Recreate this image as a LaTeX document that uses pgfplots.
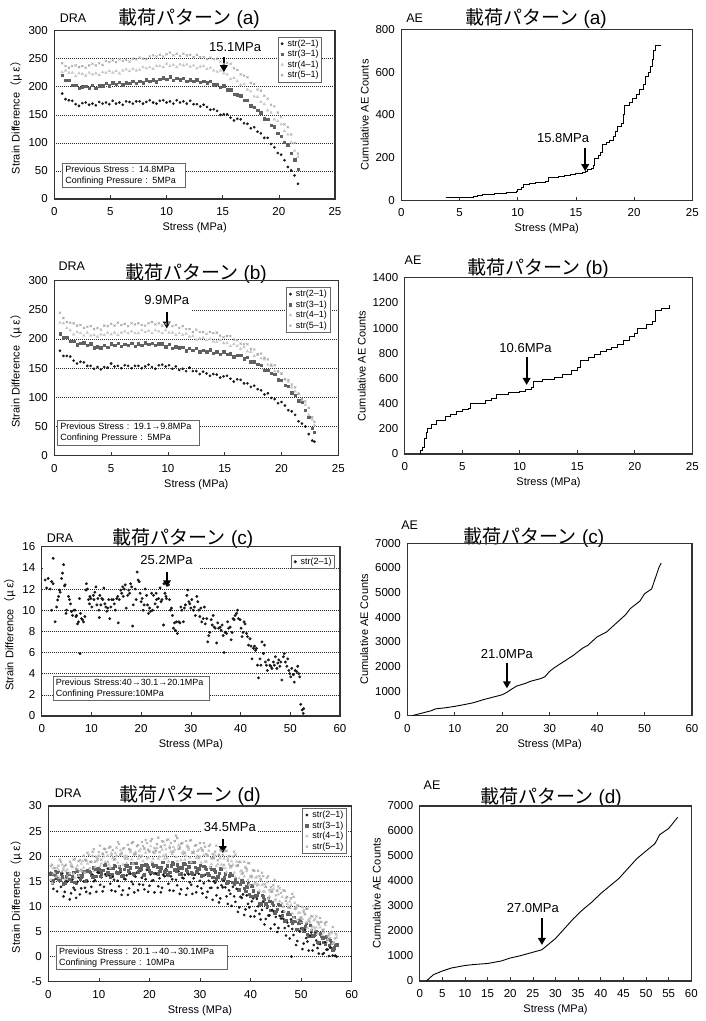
\documentclass[border=0pt]{standalone}
\usepackage{fontspec}
\setmainfont{Liberation Sans}
\newfontfamily\cjk{Noto Sans CJK JP}
\usepackage{pgfplots}
\usepackage{pgfplotstable}
\pgfplotsset{compat=1.18}
\usetikzlibrary{arrows.meta}

% ---------- DRA strain differences, loading pattern (a) ----------
\pgfplotstableread{
x a b c d
0.7 188 221 226 242
1.0 178 212 229 237
1.3 176 212 225 234
1.6 175 203 225 237
1.9 169 203 219 238
2.2 166 197 224 235
2.5 171 200 223 237
2.8 172 201 220 234
3.1 168 197 225 238
3.4 170 203 222 241
3.7 167 198 224 238
4.0 173 202 221 242
4.3 170 202 226 239
4.6 172 206 225 246
4.9 169 202 228 244
5.2 175 207 225 247
5.5 170 205 228 244
5.8 172 208 224 249
6.1 168 204 229 246
6.4 174 207 231 248
6.7 173 206 228 245
7.0 170 210 232 250
7.3 174 206 229 249
7.6 174 210 230 252
7.9 170 207 235 250
8.2 173 213 233 249
8.5 176 210 235 254
8.8 172 213 232 256
9.1 170 209 237 254
9.4 175 214 237 257
9.7 176 216 235 254
10.0 172 214 241 258
10.3 174 218 237 261
10.6 170 212 239 256
10.9 176 215 235 259
11.2 172 213 240 255
11.5 174 215 238 259
11.8 170 210 240 256
12.1 175 213 236 257
12.4 169 210 238 253
12.7 169 213 233 257
13.0 165 208 236 253
13.3 168 210 237 253
13.6 164 207 232 249
13.9 159 210 234 252
14.2 160 204 229 249
14.5 157 205 227 250
14.8 150 199 229 245
15.1 151 202 224 241
15.4 151 195 222 243
15.7 145 195 214 241
16.0 140 187 216 233
16.3 143 186 210 230
16.6 142 184 203 222
16.9 135 176 205 220
17.2 134 176 195 217
17.5 126 166 192 207
17.8 128 164 183 205
18.1 120 158 182 195
18.4 117 154 173 193
18.7 109 143 169 184
19.0 109 142 158 179
19.3 98 132 154 168
19.6 92 129 142 165
19.9 82 117 139 154
20.2 79 112 133 146
20.5 69 101 121 133
20.8 57 97 115 128
21.1 51 82 101 115
21.4 42 70 86 100
21.7 27 53 75 81
}\dA

% ---------- DRA strain differences, loading pattern (b) ----------
\pgfplotstableread{
x a b c d
0.5 180 209 228 245
0.8 171 202 227 236
1.1 171 203 219 229
1.4 170 196 215 228
1.7 163 196 208 227
2.0 158 190 212 223
2.3 161 193 210 224
2.6 160 194 206 219
2.9 154 189 211 221
3.2 154 192 206 222
3.5 149 185 207 217
3.8 152 187 204 219
4.1 148 185 208 216
4.4 152 189 207 223
4.7 151 186 211 222
5.0 158 192 208 226
5.3 153 189 211 223
5.6 154 193 207 228
5.9 150 188 211 224
6.2 155 191 213 226
6.5 154 189 210 222
6.8 150 193 213 227
7.1 154 188 210 225
7.4 154 192 210 227
7.7 150 189 215 224
8.0 153 194 212 223
8.3 156 191 214 227
8.6 152 193 210 229
8.9 149 189 215 225
9.2 155 192 213 227
9.5 156 192 210 223
9.8 153 187 215 226
10.1 155 191 211 227
10.4 149 184 211 222
10.7 153 187 207 224
11.0 147 185 210 219
11.3 149 186 207 222
11.6 145 180 209 217
11.9 151 184 204 217
12.2 145 181 205 212
12.5 145 184 199 216
12.8 140 178 201 212
13.1 144 181 202 212
13.4 141 178 198 209
13.7 137 182 200 212
14.0 140 176 196 210
14.3 139 178 195 211
14.6 134 174 198 206
14.9 136 178 193 203
15.2 137 174 193 205
15.5 132 175 188 205
15.8 127 170 191 199
16.1 131 172 188 198
16.4 130 172 183 192
16.7 124 166 186 191
17.0 124 169 179 191
17.3 118 161 178 183
17.6 120 161 171 182
17.9 114 157 173 174
18.2 112 155 167 175
18.5 105 147 165 168
18.8 107 147 156 165
19.1 99 141 154 156
19.4 97 140 145 155
19.7 90 130 144 145
20.0 92 129 140 141
20.3 86 121 131 131
20.6 78 119 127 130
20.9 76 108 117 122
21.2 70 104 110 117
21.5 59 94 106 106
21.8 55 92 95 97
22.1 50 78 87 93
22.4 37 66 70 82
22.7 26 47 62 66
22.9 24 40 52 58
}\dB

% ---------- DRA strain difference, loading pattern (c) ----------
\pgfplotstableread{
x y
0.7 12.85
1.0 12.1
1.3 13.0
1.7 12.0
2.0 12.7
2.3 14.9
2.3 12.5
2.0 10.0
2.7 8.9
3.0 10.3
3.2 10.96
3.4 11.3
3.6 11.9
3.7 11.7
4.0 13.0
4.2 13.5
4.4 14.3
4.6 12.3
4.7 12.4
4.9 9.7
5.0 10.0
5.4 11.3
5.6 11.0
5.8 10.6
6.0 9.86
6.2 9.5
6.5 10.0
6.7 10.0
6.9 9.4
7.0 9.5
7.2 8.7
7.4 8.9
7.6 11.1
7.7 5.9
7.8 9.7
8.0 9.2
8.2 9.1
8.4 8.9
8.7 9.4
8.9 11.9
9.0 12.5
9.2 12.0
9.4 11.0
9.6 10.6
9.7 11.3
9.9 11.1
10.1 10.3
10.4 11.4
10.5 11.0
10.7 11.7
10.9 12.2
11.1 10.5
11.3 11.1
11.5 10.0
11.6 9.3
11.7 11.4
11.9 10.5
12.1 11.1
12.3 11.0
12.5 12.1
12.7 10.6
12.9 10.3
13.1 9.9
13.3 10.2
13.5 11.0
13.7 9.2
13.9 10.3
14.1 11.0
14.4 11.0
14.6 10.6
14.8 10.0
15.1 11.1
15.3 11.3
15.4 8.8
15.6 11.0
15.9 11.9
16.1 11.6
16.3 12.2
16.4 11.3
16.6 12.0
16.8 12.4
17.0 10.2
17.3 11.4
17.5 11.9
17.7 11.6
17.9 12.5
18.1 12.2
18.3 8.5
18.4 10.5
18.8 12.0
19.0 11.0
19.2 13.6
19.4 12.85
19.6 12.7
19.8 11.6
20.0 10.8
20.2 11.1
20.4 10.0
20.6 10.5
20.8 12.0
21.1 11.4
21.3 10.5
21.5 9.7
21.7 10.2
21.9 9.9
22.1 11.6
22.3 10.0
22.5 11.4
22.8 10.6
23.0 11.6
23.1 11.0
23.3 10.3
23.5 11.1
23.8 12.1
24.0 10.8
24.2 11.0
24.5 8.6
24.6 12.5
24.8 11.6
25.0 11.3
25.1 11.1
25.5 12.4
25.7 11.0
25.9 10.0
26.1 10.2
26.3 9.5
26.5 8.3
26.7 8.8
26.9 8.1
27.1 8.9
27.3 7.8
27.6 8.9
27.8 8.8
28.0 10.3
28.2 10.0
28.5 8.9
28.7 10.2
28.9 10.5
29.2 11.4
29.4 11.9
29.6 10.8
29.8 10.6
30.0 10.2
30.2 11.0
30.5 10.0
30.7 10.3
30.9 9.5
31.2 11.3
31.4 10.8
31.6 10.0
31.8 9.4
32.0 10.2
32.2 8.9
32.5 9.2
32.7 10.3
32.9 8.7
33.2 9.2
33.4 7.0
33.6 7.6
33.8 7.9
34.1 9.1
34.3 8.6
34.5 9.5
34.7 8.4
34.9 8.3
35.2 6.9
35.4 8.8
35.6 8.3
35.9 8.4
36.1 8.1
36.3 8.6
36.5 7.6
36.7 6.0
36.9 7.9
37.2 7.8
37.4 8.9
37.6 8.3
37.9 8.4
38.1 7.2
38.3 7.9
38.5 9.2
38.7 9.1
38.9 9.5
39.2 9.7
39.4 10.0
39.6 9.2
39.9 9.1
40.1 8.3
40.3 7.5
40.5 7.9
40.7 8.9
40.9 8.7
41.2 7.8
41.4 7.5
41.6 6.7
41.9 7.3
42.1 6.6
42.3 5.4
42.6 6.4
42.8 6.6
43.0 6.2
43.2 6.4
43.4 4.8
43.6 3.6
43.9 5.4
44.1 4.8
44.3 7.0
44.6 5.9
44.8 6.7
45.0 5.1
45.2 4.8
45.4 4.3
45.6 5.3
45.9 4.8
46.1 4.7
46.3 4.5
46.6 5.1
46.8 4.8
47.0 5.6
47.3 4.5
47.5 5.0
47.7 5.3
47.9 4.7
48.1 5.1
48.3 3.4
48.6 5.6
48.8 5.9
49.0 5.1
49.3 4.7
49.5 5.4
49.7 4.3
49.9 4.0
50.1 3.7
50.3 4.5
50.6 3.9
50.8 3.2
51.0 4.3
51.3 4.2
51.5 4.7
51.7 4.0
51.9 3.7
52.1 1.1
52.4 0.57
52.6 0.25
52.7 0.7
}\dC

% ---------- DRA strain differences, loading pattern (d): readings at whole and half MPa ----------
\pgfplotstableread{
x a b c d
0.5 16.7 16.5 15.3 18.0
1.0 13.5 15.1 17.6 16.5
1.5 15.5 17.0 16.2 15.8
2.0 16.9 15.5 17.2 18.1
2.5 13.9 16.5 15.1 18.9
3.0 12.0 14.5 17.7 17.3
3.5 15.1 15.9 17.0 18.3
4.0 15.5 16.5 15.7 16.6
4.5 12.6 15.0 18.5 18.1
5.0 13.7 16.8 16.5 19.3
5.5 11.7 14.7 17.6 17.4
6.0 15.8 16.2 16.1 19.0
6.5 13.6 15.8 18.5 17.3
7.0 15.0 16.9 17.7 20.1
7.5 12.9 15.2 19.2 19.1
8.0 16.9 17.0 17.4 20.2
8.5 13.9 16.2 18.9 18.8
9.0 15.0 17.7 17.0 21.4
9.5 12.9 16.0 19.0 19.9
10.0 16.7 17.3 20.1 20.8
10.5 15.8 16.5 18.5 19.3
11.0 13.9 18.2 19.9 21.5
11.5 16.1 16.4 18.2 20.8
12.0 16.2 17.6 18.3 21.7
12.5 13.2 16.3 20.6 20.2
13.0 15.3 18.2 19.2 19.4
13.5 16.9 16.8 20.1 21.7
14.0 14.0 17.9 18.0 22.4
14.5 12.3 16.0 20.5 20.7
15.0 15.5 17.4 19.9 21.6
15.5 16.2 18.1 18.6 19.9
16.0 13.6 16.7 21.4 21.4
16.5 14.9 18.6 19.3 22.6
17.0 12.8 16.3 20.3 20.5
17.5 16.7 17.8 18.7 22.0
18.0 14.4 17.2 21.0 20.1
18.5 15.7 18.2 20.1 22.8
19.0 13.4 16.3 21.4 21.6
19.5 17.3 18.1 19.5 22.6
20.0 14.1 17.1 20.9 21.0
20.5 15.1 18.5 18.8 23.4
21.0 12.8 16.6 20.6 21.6
21.5 16.4 17.8 21.6 22.4
22.0 15.6 17.0 19.9 20.8
22.5 13.7 18.8 21.3 23.0
23.0 16.0 16.9 19.5 22.2
23.5 16.2 18.1 19.6 23.2
24.0 13.2 16.8 21.9 21.6
24.5 15.4 18.7 20.4 20.8
25.0 17.1 17.3 21.3 23.0
25.5 14.2 18.3 19.0 23.6
26.0 12.5 16.4 21.5 21.8
26.5 15.7 17.7 20.7 22.6
27.0 16.3 18.4 19.3 20.7
27.5 13.6 16.9 21.9 22.1
28.0 14.8 18.8 19.7 23.1
28.5 12.5 16.5 20.6 20.8
29.0 16.3 17.8 18.8 22.1
29.5 14.0 17.2 21.0 20.1
30.0 15.1 18.2 19.9 22.6
30.5 12.6 16.2 21.1 21.2
31.0 16.3 17.7 18.9 21.9
31.5 12.9 16.6 20.1 20.1
32.0 13.7 17.8 17.8 22.3
32.5 11.3 15.8 19.5 20.4
33.0 14.7 16.9 20.2 20.9
33.5 13.7 15.9 18.4 19.2
34.0 11.6 17.5 19.6 21.2
34.5 13.8 15.4 17.7 20.3
35.0 13.8 16.5 17.6 21.0
35.5 10.5 14.9 19.5 19.1
36.0 12.5 16.5 17.7 18.0
36.5 13.9 14.8 18.3 19.9
37.0 10.9 15.5 15.8 20.3
37.5 8.9 13.3 18.0 18.2
38.0 11.9 14.4 17.0 18.8
38.5 12.4 14.8 15.3 16.7
39.0 9.4 13.0 17.7 17.8
39.5 10.5 14.6 15.3 18.6
40.0 8.0 12.0 15.9 16.1
40.5 11.6 13.1 13.9 17.2
41.0 9.1 12.1 15.7 14.8
41.5 10.0 12.8 14.4 17.1
42.0 7.4 10.5 15.3 15.4
42.5 11.0 11.9 13.0 16.0
43.0 7.5 10.5 13.9 13.9
43.5 8.2 11.6 11.5 16.0
44.0 5.6 9.3 12.9 13.8
44.5 9.0 10.2 13.5 14.2
45.0 7.9 9.0 11.4 12.2
45.5 5.7 10.4 12.4 14.0
46.0 7.6 8.1 10.2 12.7
46.5 7.5 9.0 9.9 13.2
47.0 4.2 7.3 11.7 11.1
47.5 6.1 8.9 9.8 9.9
48.0 7.4 7.1 10.3 11.6
48.5 4.3 7.8 7.7 11.9
49.0 2.3 5.5 9.8 9.6
49.5 5.2 6.6 8.7 10.1
50.0 5.6 6.9 6.9 7.8
50.5 2.6 5.1 9.3 8.9
51.0 3.7 6.7 6.8 9.6
51.5 1.2 4.1 7.4 7.1
52.0 4.8 5.2 5.3 8.1
52.5 2.3 4.3 7.2 5.8
53.0 3.2 5.0 5.8 8.0
53.5 0.6 2.8 6.8 6.4
54.0 4.1 4.2 4.4 6.9
54.5 0.7 2.9 5.4 4.9
55.0 1.4 4.0 2.9 6.9
55.5 0.1 2.3 4.3 4.6
56.0 1.7 2.8 4.9 4.8
56.5 1.2 1.8 2.8 2.7
57.0 0.0 2.4 3.8 4.4
}\dD

% ---------- loading pattern (d): readings in between ----------
\pgfplotstableread{
x a b c d
0.75 14.9 14.7 14.6 18.3
1.25 16.2 16.4 16.6 17.6
1.75 13.0 16.8 17.6 16.0
2.25 15.0 15.2 15.7 19.3
2.75 16.6 15.9 18.3 16.9
3.25 12.9 14.6 15.4 18.1
3.75 14.9 16.6 17.3 16.1
4.25 11.4 15.4 16.6 18.9
4.75 15.4 15.9 18.0 17.8
5.25 13.3 14.8 15.7 19.5
5.75 14.9 17.0 18.1 17.4
6.25 12.4 15.4 17.0 19.2
6.75 16.3 16.1 19.0 17.0
7.25 13.7 15.0 16.7 19.3
7.75 15.0 17.1 18.5 20.7
8.25 12.6 16.8 17.6 18.9
8.75 16.3 15.9 20.1 20.9
9.25 15.2 17.4 17.8 18.9
9.75 16.8 17.6 19.6 19.3
10.25 14.3 16.0 18.0 22.1
10.75 13.0 17.2 20.5 20.4
11.25 16.4 18.3 18.8 21.4
11.75 17.5 16.7 20.1 18.9
12.25 14.5 15.8 17.7 21.9
12.75 15.9 17.6 19.6 21.2
13.25 13.0 18.0 20.6 19.5
13.75 15.1 16.6 18.7 22.8
14.25 16.8 17.3 21.2 20.3
14.75 13.2 16.1 18.3 21.5
15.25 15.4 18.2 20.1 19.5
15.75 12.3 17.1 19.4 22.3
16.25 16.5 17.7 20.8 21.2
16.75 14.4 16.5 18.5 22.8
17.25 15.9 18.6 20.8 20.5
17.75 13.2 16.9 19.5 22.2
18.25 17.1 17.5 21.4 19.8
18.75 14.3 16.2 19.0 22.0
19.25 15.4 18.3 20.7 23.2
19.75 12.9 17.8 19.7 21.3
20.25 16.4 16.8 22.0 23.0
20.75 15.2 18.1 19.5 20.8
21.25 16.6 18.2 21.2 21.0
21.75 14.0 16.5 19.5 23.7
22.25 12.8 17.7 21.9 21.9
22.75 16.3 18.8 20.1 22.9
23.25 17.4 17.2 21.4 20.3
23.75 14.5 16.3 18.9 23.3
24.25 16.0 18.1 20.9 22.6
24.75 13.1 18.5 21.8 20.9
25.25 15.3 17.0 19.8 24.1
25.75 17.0 17.7 22.2 21.5
26.25 13.4 16.5 19.2 22.5
26.75 15.6 18.5 20.9 20.4
27.25 12.3 17.3 20.0 23.0
27.75 16.4 17.9 21.3 21.7
28.25 14.3 16.7 18.8 23.2
28.75 15.6 18.8 21.0 20.7
29.25 12.8 16.9 19.6 22.2
29.75 16.5 17.5 21.3 19.6
30.25 13.6 16.1 18.7 21.6
30.75 14.6 18.0 20.2 22.6
31.25 11.8 17.4 18.9 20.4
31.75 15.1 16.2 21.1 22.0
32.25 13.7 17.4 18.4 19.6
32.75 15.0 17.3 19.9 19.6
33.25 12.2 15.5 18.0 22.1
33.75 10.8 16.6 20.3 20.2
34.25 14.2 17.4 18.3 21.0
34.75 15.1 15.7 19.5 18.3
35.25 12.0 14.6 16.8 21.1
35.75 13.2 16.1 18.4 20.0
36.25 10.1 16.2 19.0 18.0
36.75 12.0 14.4 16.7 20.9
37.25 13.5 14.8 18.9 18.1
37.75 9.8 13.3 15.6 18.9
38.25 11.7 15.1 17.1 16.5
38.75 8.3 13.6 16.0 18.9
39.25 12.2 13.9 17.0 17.4
39.75 9.8 12.4 14.3 18.6
40.25 11.0 14.1 16.1 15.8
40.75 8.0 12.0 14.5 17.1
41.25 11.5 12.2 15.9 14.2
41.75 8.5 10.6 13.1 16.0
42.25 9.3 12.2 14.3 16.7
42.75 6.4 11.4 12.9 14.4
43.25 9.7 10.0 14.8 15.7
43.75 8.2 11.0 12.0 13.2
44.25 9.3 10.7 13.2 12.9
44.75 6.4 8.7 11.2 15.3
45.25 4.9 9.5 13.2 13.1
45.75 8.1 10.2 11.0 13.6
46.25 8.9 8.2 11.9 10.6
46.75 5.7 7.0 9.0 13.1
47.25 6.8 8.4 10.5 11.9
47.75 3.6 8.5 11.0 9.7
48.25 5.5 6.6 8.6 12.5
48.75 6.9 7.0 10.7 9.5
49.25 3.1 5.4 7.3 10.2
49.75 5.0 7.2 8.7 7.6
50.25 1.5 5.7 7.5 9.9
50.75 5.4 6.0 8.5 8.4
51.25 3.0 4.5 5.7 9.5
51.75 4.2 6.3 7.6 6.8
52.25 1.2 4.2 5.9 8.0
52.75 4.7 4.5 7.4 5.2
53.25 1.7 2.9 4.5 6.9
53.75 2.5 4.6 5.8 7.7
54.25 0.5 3.8 4.3 5.3
54.75 2.8 2.5 6.3 6.7
55.25 1.4 3.5 3.4 4.1
55.75 1.8 3.3 4.6 3.7
56.25 0.2 1.4 2.6 5.9
56.75 0.2 2.3 4.6 3.6
}\dE

\pgfplotsset{
  panel/.style={
    scale only axis, anchor=south west,
    axis line style={black!80, line width=1.1pt},
    tick align=inside, xtick pos=bottom, ytick pos=left,
    major tick length=3.5pt,
    xtick style={black!80, line width=0.7pt},
    ytick style={draw=none},
    tick label style={font=\fontsize{11.5}{11.5}\selectfont},
    xticklabel style={yshift=-5pt},
    yticklabel style={xshift=-3pt},
    label style={font=\fontsize{11}{12}\selectfont},
    xlabel={Stress (MPa)},
    scaled ticks=false,
    /pgf/number format/assume math mode=true,
    /pgf/number format/set thousands separator={},
  },
  dra/.style={panel, ymajorgrids,
    grid style={black!85, line width=0.6pt, dash pattern=on 0.7pt off 1.3pt},
    ylabel={Strain Difference{\cjk （μ ε）}},
    legend style={font=\fontsize{9}{10}\selectfont, draw=black!60, line width=0.5pt,
      fill=white, inner xsep=1pt, inner ysep=0.5pt, row sep=-1.5pt, anchor=north east},
    legend cell align=left,
    legend image code/.code={\path (0,0) (0.22cm,0); \draw[##1] plot coordinates {(0.11cm,0cm)};},
  },
  ae/.style={panel, ylabel={Cumulative AE Counts}},
  s2/.style={only marks, mark=*, mark size=1.15pt, color=black!90},
  s3/.style={only marks, mark=square*, mark size=1.2pt, color=black!62},
  s4/.style={only marks, mark=triangle*, mark size=1.5pt, color=black!22},
  s5/.style={only marks, mark=x, mark size=1.5pt, color=black!36, mark options={line width=0.6pt}},
  aecurve/.style={black, line width=0.9pt, no marks},
}
\tikzset{
  ann/.style={font=\fontsize{13}{13}\selectfont, fill=white, inner sep=1.5pt},
  annarrow/.style={black, line width=2pt, -{Triangle[length=7pt, width=7.5pt]}},
  ttl/.style={font=\fontsize{19}{19}\selectfont, inner sep=0pt},
  tag/.style={font=\fontsize{12.5}{12.5}\selectfont, inner sep=0pt},
  info/.style={draw=black!60, line width=0.5pt, fill=white, anchor=north west, align=left,
    font=\fontsize{9}{11}\selectfont, inner xsep=3pt, inner ysep=2.5pt},
}

\begin{document}
\begin{tikzpicture}
\path[use as bounding box] (0,0) rectangle (706pt,1021pt);

% ===== (a) DRA =====
\node[tag] at (73pt,1003pt) {DRA};
\node[ttl] at (189pt,1003pt) {{\cjk 載荷パターン} (a)};
\begin{axis}[dra, at={(54.3pt,822pt)}, width=280.7pt, height=168.3pt,
  xmin=0, xmax=25, ymin=0, ymax=300, xtick={0,5,...,25}, ytick={0,50,...,300},
  legend style={at={(0.953,0.963)}}]
\addplot[s2] table[x=x, y=a] {\dA}; \addlegendentry{str(2–1)}
\addplot[s3] table[x=x, y=b] {\dA}; \addlegendentry{str(3–1)}
\addplot[s4] table[x=x, y=c] {\dA}; \addlegendentry{str(4–1)}
\addplot[s5] table[x=x, y=d] {\dA}; \addlegendentry{str(5–1)}
\node[ann] at (axis cs:16.1,271) {15.1MPa};
\draw[annarrow] (axis cs:15.1,253) -- (axis cs:15.1,226);
\node[info, text width=117pt] at (axis cs:0.7,64) {Previous Stress : 14.8MPa\\Confining Pressure : 5MPa};
\end{axis}

% ===== (a) AE =====
\node[tag] at (414.7pt,1003pt) {AE};
\node[ttl] at (536pt,1003pt) {{\cjk 載荷パターン} (a)};
\begin{axis}[ae, at={(401.3pt,820.7pt)}, width=291pt, height=171pt,
  xmin=0, xmax=25, ymin=0, ymax=800, xtick={0,5,...,25}, ytick={0,200,...,800}]
\addplot[aecurve, const plot] coordinates {
(3.8,15) (6.2,20) (6.5,23) (7.0,25) (7.5,27) (8.0,30) (8.5,33) (9.0,35) (9.5,38)
(9.9,40) (10.0,52) (10.3,60) (10.5,75) (11.0,78) (11.5,82) (12.0,85) (12.4,90)
(12.6,105) (13.0,108) (13.5,112) (14.0,115) (14.5,122) (15.0,125) (15.6,128)
(15.8,135) (16.0,142) (16.3,150) (16.5,162) (16.6,195) (16.9,210) (17.1,222)
(17.3,262) (17.6,272) (17.9,282) (18.2,300) (18.4,320) (18.6,345) (18.9,360)
(19.1,400) (19.2,445) (19.6,460) (19.9,475) (20.2,495) (20.5,520) (20.8,540)
(21.0,580) (21.2,600) (21.4,625) (21.6,660) (21.7,700) (21.8,725) (22.3,725)};
\node[ann] at (axis cs:13.9,290) {15.8MPa};
\draw[annarrow] (axis cs:15.8,243) -- (axis cs:15.8,136);
\end{axis}

% ===== (b) DRA =====
\node[tag] at (71.7pt,755pt) {DRA};
\node[ttl] at (196pt,748pt) {{\cjk 載荷パターン} (b)};
\begin{axis}[dra, at={(54.3pt,565.3pt)}, width=284pt, height=175pt,
  xmin=0, xmax=25, ymin=0, ymax=300, xtick={0,5,...,25}, ytick={0,50,...,300},
  legend style={at={(0.971,0.962)}}]
\fill[white] (axis cs:0.05,246) rectangle (axis cs:12.1,254);
\addplot[s2] table[x=x, y=a] {\dB}; \addlegendentry{str(2–1)}
\addplot[s3] table[x=x, y=b] {\dB}; \addlegendentry{str(3–1)}
\addplot[s4] table[x=x, y=c] {\dB}; \addlegendentry{str(4–1)}
\addplot[s5] table[x=x, y=d] {\dB}; \addlegendentry{str(5–1)}
\node[ann] at (axis cs:9.9,267) {9.9MPa};
\draw[annarrow] (axis cs:9.9,246) -- (axis cs:9.9,218);
\node[info, text width=136pt] at (axis cs:0.25,61) {Previous Stress : 19.1→9.8MPa\\Confining Pressure : 5MPa};
\end{axis}

% ===== (b) AE =====
\node[tag] at (413pt,761pt) {AE};
\node[ttl] at (538pt,753pt) {{\cjk 載荷パターン} (b)};
\begin{axis}[ae, at={(404.7pt,567pt)}, width=287.6pt, height=176.3pt,
  xmin=0, xmax=25, ymin=0, ymax=1400, xtick={0,5,...,25}, ytick={0,200,...,1400}]
\addplot[aecurve, const plot] coordinates {
(1.2,0) (1.4,30) (1.5,50) (1.7,120) (1.85,170) (2.0,205) (2.3,235) (2.8,265)
(3.2,270) (3.5,295) (4.0,315) (4.5,340) (5.0,355) (5.5,360) (5.7,398) (6.5,405)
(7.0,425) (7.5,445) (8.0,470) (9.0,485) (10.0,495) (10.5,510) (11.0,525)
(11.2,575) (12.0,595) (13.0,610) (13.7,630) (14.5,665) (15.0,690) (15.3,745)
(16.0,770) (16.5,790) (17.0,815) (17.5,830) (18.0,850) (18.5,870) (19.0,900)
(19.5,935) (20.0,960) (20.2,1000) (21.0,1030) (21.5,1050) (21.8,1140)
(22.3,1155) (23.0,1180)};
\node[ann] at (axis cs:10.5,839) {10.6MPa};
\draw[annarrow] (axis cs:10.6,773) -- (axis cs:10.6,548);
\end{axis}

% ===== (c) DRA =====
\node[tag] at (60pt,483pt) {DRA};
\node[ttl] at (183pt,483pt) {{\cjk 載荷パターン} (c)};
\begin{axis}[dra, at={(41.7pt,305pt)}, width=298.3pt, height=169.3pt,
  xmin=0, xmax=60, ymin=0, ymax=16, xtick={0,10,...,60}, ytick={0,2,...,16},
  legend style={at={(0.983,0.951)}}]
\fill[white] (axis cs:0.3,13.8) rectangle (axis cs:31.8,14.2);
\addplot[s2, mark size=1.25pt] table[x=x, y=y] {\dC}; \addlegendentry{str(2–1)}
\node[ann] at (axis cs:25.1,14.74) {25.2MPa};
\draw[annarrow] (axis cs:25.2,13.6) -- (axis cs:25.2,12.16);
\node[info, text width=150pt] at (axis cs:2.2,3.78) {Previous Stress:40→30.1→20.1MPa\\Confining Pressure:10MPa};
\end{axis}

% ===== (c) AE =====
\node[tag] at (409.7pt,496pt) {AE};
\node[ttl] at (534pt,484pt) {{\cjk 載荷パターン} (c)};
\begin{axis}[ae, at={(407.3pt,305.3pt)}, width=284.7pt, height=172.4pt,
  xmin=0, xmax=60, ymin=0, ymax=7000, xtick={0,10,...,60}, ytick={0,1000,...,7000}]
\addplot[aecurve] coordinates {
(1,0) (3,100) (5,200) (6,280) (8,320) (10,380) (12,450) (14,530) (16,650)
(18,750) (20,850) (21,950) (22,1080) (23,1200) (25,1320) (26,1400) (28,1500)
(29,1580) (30,1800) (31,1950) (33,2200) (35,2450) (37,2750) (38,2850) (40,3200)
(42,3400) (44,3750) (46,4100) (47,4350) (49,4650) (50,4950) (51.5,5150)
(52.3,5600) (53,6000) (53.5,6200)};
\node[ann] at (axis cs:21.0,2505) {21.0MPa};
\draw[annarrow] (axis cs:21.0,2126) -- (axis cs:21.0,1110);
\end{axis}

% ===== (d) DRA =====
\node[tag] at (68pt,228pt) {DRA};
\node[ttl] at (190pt,226pt) {{\cjk 載荷パターン} (d)};
\begin{axis}[dra, at={(48.3pt,39.3pt)}, width=303.4pt, height=175.7pt,
  xmin=0, xmax=60, ymin=-5, ymax=30, xtick={0,10,...,60}, ytick={-5,0,...,30},
  legend style={at={(0.983,0.987)}}]
\addplot[s2] table[x=x, y=a] {\dD}; \addlegendentry{str(2–1)}
\addplot[s3] table[x=x, y=b] {\dD}; \addlegendentry{str(3–1)}
\addplot[s4] table[x=x, y=c] {\dD}; \addlegendentry{str(4–1)}
\addplot[s5] table[x=x, y=d] {\dD}; \addlegendentry{str(5–1)}
\addplot[s2, forget plot] table[x=x, y=a] {\dE};
\addplot[s3, forget plot] table[x=x, y=b] {\dE};
\addplot[s4, forget plot] table[x=x, y=c] {\dE};
\addplot[s5, forget plot] table[x=x, y=d] {\dE};
\addplot[s2, forget plot] coordinates {(48.1,0.0)};
\node[ann] at (axis cs:35.9,25.9) {34.5MPa};
\draw[annarrow] (axis cs:34.5,23.5) -- (axis cs:34.5,20.6);
\node[info, text width=165pt] at (axis cs:1.5,2.3) {Previous Stress : 20.1→40→30.1MPa\\Confining Pressure : 10MPa};
\end{axis}

% ===== (d) AE =====
\node[tag] at (432pt,236pt) {AE};
\node[ttl] at (551pt,224pt) {{\cjk 載荷パターン} (d)};
\begin{axis}[ae, at={(419.7pt,40pt)}, width=271.6pt, height=175pt,
  xmin=0, xmax=60, ymin=0, ymax=7000, xtick={0,5,...,60}, ytick={0,1000,...,7000}]
\addplot[aecurve] coordinates {
(1.5,0) (3,250) (5,400) (7,520) (10,620) (12,660) (15,700) (18,800) (20,920)
(22,1000) (25,1150) (27,1250) (28,1400) (30,1700) (32,2100) (34,2500) (36,2850)
(38,3150) (40,3500) (42,3800) (44,4100) (46,4500) (48,4900) (50,5200) (52,5500)
(53,5850) (55,6100) (57,6550)};
\node[ann] at (axis cs:25.0,2907) {27.0MPa};
\draw[annarrow] (axis cs:27.0,2507) -- (axis cs:27.0,1440);
\end{axis}
\end{tikzpicture}
\end{document}
